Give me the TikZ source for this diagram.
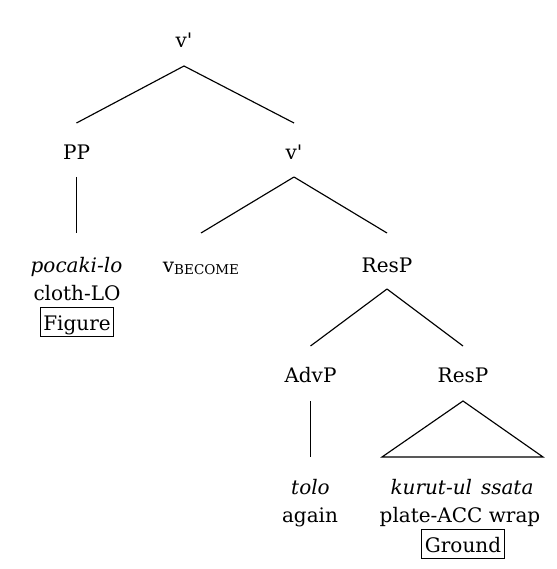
\documentclass[tikz,border=0pt]{standalone}
\usepackage{fontspec}
\setmainfont{DejaVu Serif}
\usetikzlibrary{calc}
\begin{document}
\begin{tikzpicture}[x=1pt,y=-1pt,
  lab/.style={anchor=base, inner sep=0pt, font=\fontsize{20}{24}\selectfont},
  boxed/.style={lab, draw, line width=1pt, inner xsep=3pt, inner ysep=6pt, text height=17pt, text depth=0pt},
  branch/.style={line width=1.15pt}]
\useasboundingbox[fill=white] (0,0) rectangle (556,569);
\node[lab] (top) at (184,48) {v\textquotesingle};
\node[lab] (pp) at (76.5,160) {PP};
\node[lab] (vbar) at (294,160) {v\textquotesingle};
\node[lab] (poc) at (76.5,272) {\itshape pocaki-lo};
\node[lab] (cloth) at (77,300) {cloth-LO};
\node[boxed] (fig) at (77,330) {Figure};
\node[lab] (vbec) at (201,272) {v\raisebox{-2pt}{\fontsize{13.5}{14}\selectfont BECOME}};
\node[lab] (resp) at (387,272) {ResP};
\node[lab] (advp) at (310.5,382) {AdvP};
\node[lab] (resp2) at (463,382) {ResP};
\node[lab] (tolo) at (310.5,494) {\itshape tolo};
\node[lab] (again) at (310,522) {again};
\node[lab] (kur) at (462,494) {\itshape kurut-ul\hspace{0.45em}ssata};
\node[lab] (plate) at (460,522) {plate-ACC wrap};
\node[boxed] (ground) at (463,552) {Ground};
\draw[branch] ($(top.base)+(0,18)$) -- ($(pp.base)+(0,-37)$);
\draw[branch] ($(top.base)+(0,18)$) -- ($(vbar.base)+(0,-37)$);
\draw[branch] ($(pp.base)+(0,17)$) -- ($(poc.base)+(0,-39)$);
\draw[branch] ($(vbar.base)+(0,17)$) -- ($(vbec.base)+(0,-39)$);
\draw[branch] ($(vbar.base)+(0,17)$) -- ($(resp.base)+(0,-39)$);
\draw[branch] ($(resp.base)+(0,17)$) -- ($(advp.base)+(0,-36)$);
\draw[branch] ($(resp.base)+(0,17)$) -- ($(resp2.base)+(0,-36)$);
\draw[branch] ($(advp.base)+(0,19)$) -- ($(tolo.base)+(0,-37)$);
\draw[branch] ($(resp2.base)+(0,19)$) -- ($(kur.base)+(-80,-37)$) -- ($(kur.base)+(81,-37)$) -- cycle;
\end{tikzpicture}
\end{document}
